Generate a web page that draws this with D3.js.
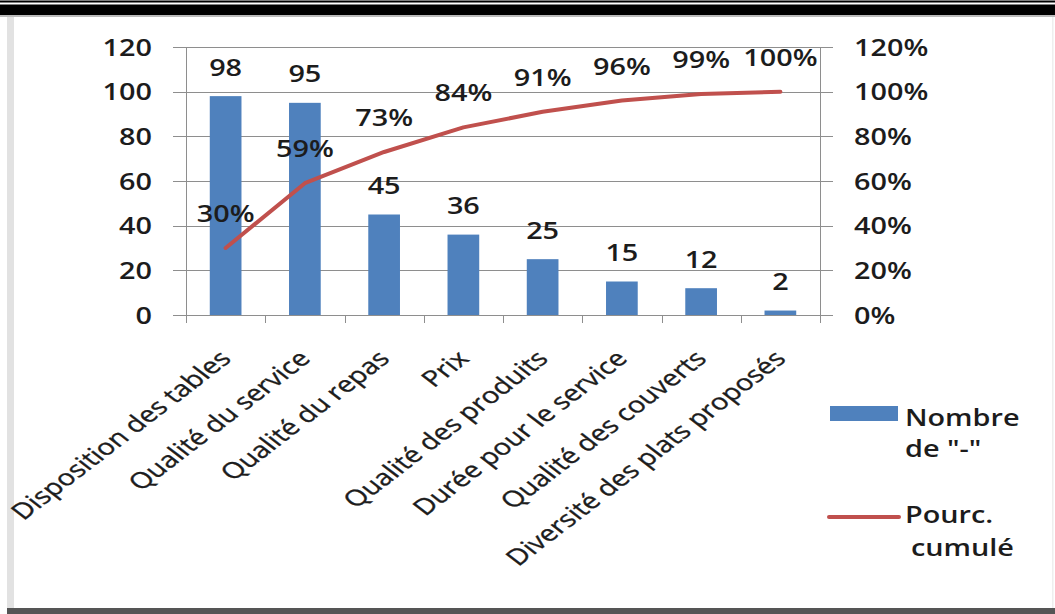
<!DOCTYPE html>
<html><head><meta charset="utf-8">
<script src="https://cdn.jsdelivr.net/npm/d3@7"></script>
<style>html,body{margin:0;padding:0;background:#fff;}svg{display:block;}</style>
</head><body>
<script>
const categories = ["Disposition des tables","Qualité du service","Qualité du repas","Prix","Qualité des produits","Durée pour le service","Qualité des couverts","Diversité des plats proposés"];
const counts = [98,95,45,36,25,15,12,2];
const cumulPct = [30,59,73,84,91,96,99,100];
const leftTicks = [0,20,40,60,80,100,120];
const rightTicks = [0,20,40,60,80,100,120];
const legendLabels = [["Nombre","de \"-\""],["Pourc.","cumulé"]];

const W=1055,H=614;
const SX=1.2, FONT="'Open Sans', sans-serif", FS=24, FW=600, TXT="#1c1c1c";
const svg=d3.select("body").append("svg").attr("width",W).attr("height",H);
svg.append("rect").attr("width",W).attr("height",H).attr("fill","#fff");

// frame
svg.append("rect").attr("x",0).attr("y",0.5).attr("width",W).attr("height",2).attr("fill","#000");
svg.append("rect").attr("x",0).attr("y",4.5).attr("width",W).attr("height",10.5).attr("fill","#000");
svg.append("rect").attr("x",0).attr("y",15).attr("width",W).attr("height",2).attr("fill","#bbb");
svg.append("rect").attr("x",7).attr("y",17).attr("width",7).attr("height",592).attr("fill","#e2e2e2");
svg.append("rect").attr("x",1052).attr("y",17).attr("width",1.5).attr("height",592).attr("fill","#eee");
svg.append("rect").attr("x",7).attr("y",608).attr("width",W-7).attr("height",6).attr("fill","#555");

const x0=186,x1=820,yTop=47,yBot=315;
const x=d3.scaleBand().domain(categories).range([x0,x1]).padding(0);
const y=d3.scaleLinear().domain([0,120]).range([yBot,yTop]);
const y2=d3.scaleLinear().domain([0,120]).range([yBot,yTop]);

function txt(g,tx,ty,s,anchor,fs){
  return g.append("text").attr("transform",`translate(${tx},${ty}) scale(${SX},1)`)
    .attr("text-anchor",anchor||"middle").attr("font-family",FONT).attr("font-size",fs||FS)
    .attr("font-weight",FW).attr("fill",TXT).text(s);
}

// gridlines
const gridCol="#8e8e8e";
svg.append("g").selectAll("line").data(leftTicks).join("line")
  .attr("x1",173).attr("x2",833).attr("y1",d=>Math.round(y(d))+0.5).attr("y2",d=>Math.round(y(d))+0.5)
  .attr("stroke",gridCol).attr("stroke-width",1);
svg.append("line").attr("x1",x0+0.5).attr("x2",x0+0.5).attr("y1",yTop).attr("y2",yBot+8).attr("stroke",gridCol);
svg.append("line").attr("x1",x1+0.5).attr("x2",x1+0.5).attr("y1",yTop).attr("y2",yBot+8).attr("stroke",gridCol);
svg.append("g").selectAll("line").data(categories.slice(1)).join("line")
  .attr("x1",d=>Math.round(x(d))+0.5).attr("x2",d=>Math.round(x(d))+0.5).attr("y1",yBot).attr("y2",yBot+8)
  .attr("stroke",gridCol);

// y labels
const gl=svg.append("g");
leftTicks.forEach(t=>txt(gl,152,y(t)+8.5,String(t),"end"));
const gr=svg.append("g");
rightTicks.forEach(t=>txt(gr,854,y2(t)+8.5,t+"%","start"));

// bars
const bw=x.bandwidth()*0.4;
svg.append("g").selectAll("rect").data(counts).join("rect")
  .attr("x",(d,i)=>x(categories[i])+x.bandwidth()/2-bw/2).attr("width",bw)
  .attr("y",d=>y(d)).attr("height",d=>yBot-y(d)).attr("fill","#4f81bd");
const gbl=svg.append("g");
counts.forEach((d,i)=>txt(gbl,x(categories[i])+x.bandwidth()/2,y(d)-20.5,String(d)));

// line
const line=d3.line().x((d,i)=>x(categories[i])+x.bandwidth()/2).y(d=>y2(d));
svg.append("path").datum(cumulPct).attr("d",line).attr("fill","none").attr("stroke","#c0504d")
  .attr("stroke-width",4).attr("stroke-linejoin","round").attr("stroke-linecap","round");
const gpl=svg.append("g");
cumulPct.forEach((d,i)=>txt(gpl,x(categories[i])+x.bandwidth()/2,y2(d)-26,d+"%"));

// category labels
const gc=svg.append("g");
categories.forEach(c=>{
  gc.append("text").attr("transform",`translate(${x(c)+x.bandwidth()/2+7},360) scale(1.3,1) rotate(-45)`)
    .attr("text-anchor","end").attr("font-family",FONT).attr("font-size",22.3).attr("font-weight",400)
    .attr("stroke",TXT).attr("stroke-width",0.35)
    .attr("fill",TXT).text(c);
});

// legend
svg.append("rect").attr("x",830).attr("y",406).attr("width",68).attr("height",15).attr("fill","#4f81bd");
txt(svg,905,426,legendLabels[0][0],"start");
txt(svg,905,457,legendLabels[0][1],"start");
svg.append("line").attr("x1",829).attr("x2",899).attr("y1",517).attr("y2",517).attr("stroke","#c0504d").attr("stroke-width",4).attr("stroke-linecap","round");
txt(svg,905,523,legendLabels[1][0],"start");
txt(svg,911,556,legendLabels[1][1],"start");
</script>
</body></html>
